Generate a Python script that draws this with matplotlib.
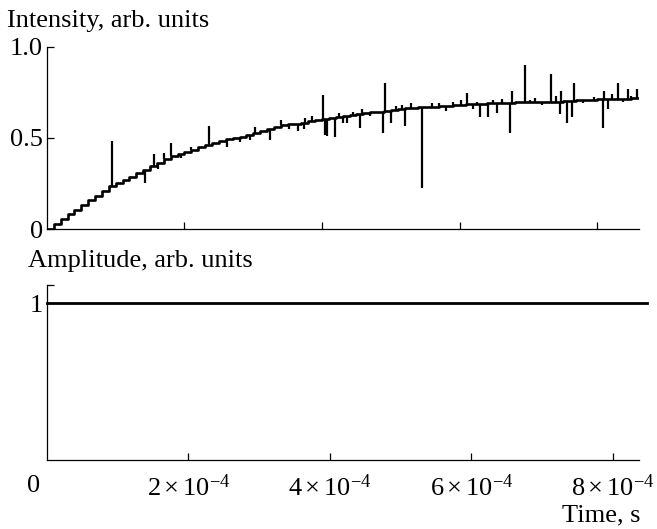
import numpy as np
import matplotlib
matplotlib.use("Agg")
import matplotlib.pyplot as plt

plt.rcParams['font.family'] = ['Liberation Serif', 'DejaVu Serif']
plt.rcParams['mathtext.fontset'] = 'custom'
plt.rcParams['mathtext.rm'] = 'Liberation Serif'
plt.rcParams['mathtext.it'] = 'Liberation Serif:italic'
plt.rcParams['font.size'] = 19

t_base = np.arange(87) * 1e-5
intensity = [0.000, 0.028, 0.055, 0.081, 0.106, 0.132, 0.158, 0.184, 0.210, 0.237,
             0.255, 0.270, 0.285, 0.305, 0.325, 0.345, 0.360, 0.385, 0.400, 0.410,
             0.422, 0.435, 0.448, 0.462, 0.475, 0.482, 0.495, 0.500, 0.507, 0.515,
             0.526, 0.540, 0.550, 0.562, 0.570, 0.575, 0.578, 0.585, 0.592, 0.598,
             0.605, 0.610, 0.615, 0.620, 0.626, 0.632, 0.637, 0.642, 0.645, 0.648,
             0.655, 0.660, 0.663, 0.666, 0.668, 0.670, 0.672, 0.675, 0.678, 0.680,
             0.683, 0.686, 0.688, 0.688, 0.690, 0.690, 0.692, 0.693, 0.695, 0.696,
             0.697, 0.698, 0.699, 0.700, 0.700, 0.702, 0.705, 0.707, 0.710, 0.711,
             0.712, 0.713, 0.714, 0.715, 0.716, 0.718, 0.720]

# spikes (outlier samples): time in units of 1e-4 s, tip value
spike_t = [0.95, 1.43, 1.55, 1.62, 1.70, 1.81, 1.95, 2.10, 2.36, 2.62, 2.81, 2.95,
           3.02, 3.25, 3.40, 3.52, 3.65, 3.74, 3.75, 3.85, 4.02, 4.04, 4.07, 4.19,
           4.25, 4.30, 4.37, 4.45, 4.55, 4.58, 4.70, 4.88, 4.92, 5.00, 5.08, 5.16,
           5.20, 5.30, 5.46, 5.60, 5.70, 5.80, 5.90, 6.02, 6.11, 6.20, 6.25, 6.30,
           6.42, 6.48, 6.55, 6.62, 6.74, 6.77, 6.95, 7.02, 7.10, 7.20, 7.33, 7.40,
           7.46, 7.47, 7.56, 7.63, 7.66, 7.80, 7.95, 8.09, 8.10, 8.16, 8.22, 8.30,
           8.38, 8.45, 8.50, 8.58]
spike_y = [0.485, 0.250, 0.410, 0.330, 0.420, 0.470, 0.390, 0.450, 0.566, 0.450, 0.480, 0.490,
           0.560, 0.490, 0.600, 0.550, 0.540, 0.550, 0.610, 0.620, 0.736, 0.516, 0.510, 0.504,
           0.640, 0.580, 0.580, 0.645, 0.553, 0.660, 0.620, 0.526, 0.800, 0.580, 0.675, 0.680,
           0.566, 0.690, 0.227, 0.690, 0.690, 0.650, 0.700, 0.710, 0.746, 0.660, 0.700, 0.614,
           0.614, 0.710, 0.640, 0.715, 0.526, 0.760, 0.900, 0.710, 0.720, 0.680, 0.850, 0.730,
           0.632, 0.760, 0.580, 0.614, 0.800, 0.690, 0.725, 0.557, 0.760, 0.660, 0.740, 0.800,
           0.700, 0.768, 0.730, 0.770]

# amplitude (constant)
amp_t = [0.0, 8.48e-4]
amplitude = [1.0, 1.0]

x_ticks = [2e-4, 4e-4, 6e-4, 8e-4]
x_labels = [r'$2\times10^{-4}$', r'$4\times10^{-4}$', r'$6\times10^{-4}$', r'$8\times10^{-4}$']

fig = plt.figure(figsize=(6.57, 5.29), dpi=100)
ax1 = fig.add_axes([0.0715, 0.5671, 0.9011, 0.3441])
ax2 = fig.add_axes([0.0715, 0.1304, 0.9011, 0.3308])

for ax in (ax1, ax2):
    ax.spines['top'].set_visible(False)
    ax.spines['right'].set_visible(False)
    ax.spines['left'].set_linewidth(0.9)
    ax.spines['bottom'].set_linewidth(0.9)
    ax.tick_params(direction='in', length=5, width=0.9, pad=3)

# top: intensity
st = np.array(spike_t) * 1e-4
idx = np.searchsorted(t_base, st, side='right') - 1
base_at = np.array(intensity)[idx]
ax1.step(t_base, intensity, where='post', color='black', lw=1.9)
ax1.vlines(st, base_at, spike_y, color='black', lw=1.6)
ax1.set_xlim(0, 8.61e-4)
ax1.set_ylim(0, 1.0)
ax1.set_xticks(x_ticks)
ax1.set_xticklabels([])
ax1.set_yticks([0, 0.5, 1.0])
ax1.set_yticklabels(['0', '0.5', '1.0'])

# bottom: amplitude
ax2.plot(amp_t, amplitude, color='black', lw=2.0, clip_on=False)
ax2.set_xlim(0, 8.37e-4)
ax2.set_ylim(0, 1.115)
ax2.set_yticks([1.0, 1.115])
ax2.set_yticklabels(['1', ''])
ax2.set_xticks(x_ticks)
ax2.set_xticklabels(x_labels)
ax2.tick_params(axis='x', pad=10)
ax2.annotate('0', xy=(0, 0), xytext=(-9.5, -10.5), textcoords='offset points',
             ha='center', va='top')

fig.text(7 / 657, 1 - 27 / 529, 'Intensity, arb. units', ha='left', va='baseline')
fig.text(28 / 657, 1 - 267 / 529, 'Amplitude, arb. units', ha='left', va='baseline')
fig.text(641 / 657, 1 - 521 / 529, 'Time, s', ha='right', va='baseline')

fig.savefig('out.png', dpi=100)
